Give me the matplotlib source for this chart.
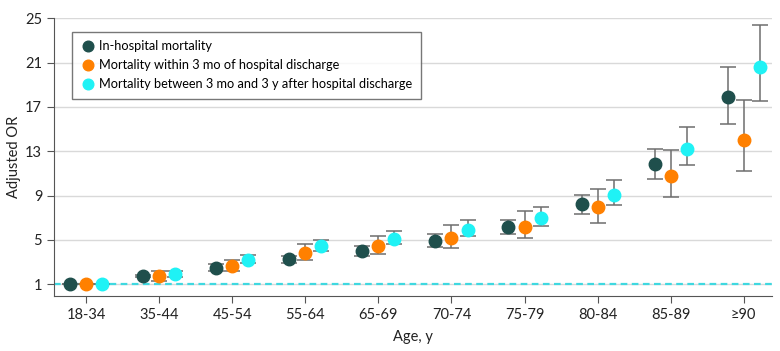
import numpy as np
import matplotlib.pyplot as plt

ageGroups = ["18-34", "35-44", "45-54", "55-64", "65-69", "70-74", "75-79", "80-84", "85-89", "\u226590"]

inHospital = [1.0, 1.72, 2.5, 3.25, 4.0, 4.91, 6.14, 8.22, 11.83, 17.88]
inHospitalLow = [1.0, 1.62, 2.2, 2.9, 3.55, 4.37, 5.54, 7.32, 10.48, 15.5]
inHospitalHigh = [1.0, 1.82, 2.86, 3.58, 4.48, 5.51, 6.83, 9.09, 13.24, 20.58]

within3mo = [1.0, 1.72, 2.68, 3.85, 4.43, 5.21, 6.2, 7.95, 10.8, 14.05]
within3moLow = [1.0, 1.33, 2.17, 3.17, 3.71, 4.25, 5.15, 6.56, 8.88, 11.2]
within3moHigh = [1.0, 2.17, 3.22, 4.61, 5.39, 6.32, 7.59, 9.6, 13.15, 17.63]

between3mo3y = [1.0, 1.93, 3.19, 4.43, 5.09, 5.93, 6.96, 9.09, 13.24, 20.64]
between3mo3yLow = [1.0, 1.63, 2.9, 4.03, 4.64, 5.33, 6.26, 8.13, 11.8, 17.54]
between3mo3yHigh = [1.0, 2.23, 3.67, 5.03, 5.78, 6.78, 7.95, 10.4, 15.17, 24.43]

seriesLabels = ["In-hospital mortality",
                "Mortality within 3 mo of hospital discharge",
                "Mortality between 3 mo and 3 y after hospital discharge"]
seriesColors = ["#1f4f4c", "#ff8000", "#1ff2f5"]

plt.rcParams['font.family'] = ['Lato', 'DejaVu Sans']

fig = plt.figure(figsize=(7.8, 3.51), dpi=100)
ax = fig.add_axes([0.0692, 0.1567, 0.9208, 0.7913])

x = np.arange(len(ageGroups))
offsets = [-0.22, 0.0, 0.22]
allSeries = [(inHospital, inHospitalLow, inHospitalHigh),
             (within3mo, within3moLow, within3moHigh),
             (between3mo3y, between3mo3yLow, between3mo3yHigh)]

ax.axhline(1, color="#3fd8e0", linestyle=(0, (3, 2)), linewidth=1.6, zorder=1)

for (vals, low, high), off, color, label in zip(allSeries, offsets, seriesColors, seriesLabels):
    vals = np.array(vals)
    yerr = np.vstack([vals - np.array(low), np.array(high) - vals])
    ax.errorbar(x + off, vals, yerr=yerr, fmt="none", ecolor="#6e6e6e",
                elinewidth=1.1, capsize=5.5, capthick=1.1, zorder=2)
    ax.plot(x + off, vals, "o", color=color, markersize=9, label=label, zorder=3)

ax.set_xlim(-0.44, 9.39)
ax.set_ylim(-0.06, 25)
ax.set_xticks(x)
ax.set_xticklabels(ageGroups)
ax.set_yticks([1, 5, 9, 13, 17, 21, 25])
ax.grid(axis="y", color="#d9d9d9", linewidth=1)
ax.set_axisbelow(True)
for s in ["top", "right"]:
    ax.spines[s].set_visible(False)
for s in ["left", "bottom"]:
    ax.spines[s].set_color("#555555")
ax.tick_params(axis="both", colors="#555555", labelcolor="#222222", labelsize=10.5, length=5)
ax.set_xlabel("Age, y", fontsize=10.5, color="#222222", labelpad=6)
ax.set_ylabel("Adjusted OR", fontsize=10.5, color="#222222", labelpad=3)

leg = ax.legend(loc="upper left", bbox_to_anchor=(0.025, 0.951), borderaxespad=0,
                frameon=True, fancybox=False,
                fontsize=9.2, handletextpad=0.3, borderpad=0.65, labelspacing=0.55,
                handlelength=1.2, markerscale=0.85)
leg.get_frame().set_edgecolor("#555555")
leg.get_frame().set_linewidth(1)

fig.savefig("out.png", dpi=100)
